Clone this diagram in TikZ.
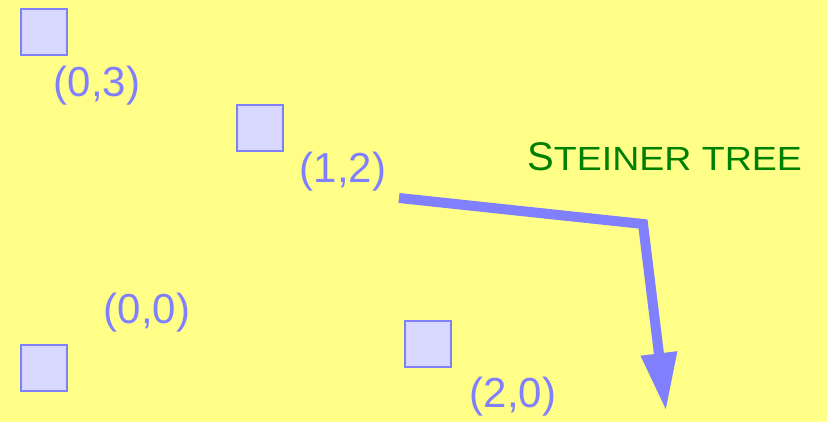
\documentclass[tikz,border=0pt]{standalone}
\usepackage{fontspec}
\setmainfont{Liberation Sans}
\usetikzlibrary{arrows.meta}
\definecolor{bgyellow}{RGB}{255,255,136}
\definecolor{lblue}{RGB}{128,128,255}
\definecolor{sqfill}{RGB}{216,216,255}
\definecolor{dgreen}{RGB}{0,128,0}
\tikzset{
  pt/.style={draw=lblue, fill=sqfill, line width=2pt, minimum size=46pt, inner sep=0pt, outer sep=0pt},
  lbl/.style={text=lblue, font=\fontsize{42}{46}\selectfont, inner sep=0pt},
}
\begin{document}
\begin{tikzpicture}[x=1pt,y=-1pt]
\fill[bgyellow] (0,0) rectangle (827,422);
\useasboundingbox (0,0) rectangle (827,422);
\node[pt] (s03) at (44,32) {};
\node[pt] (s12) at (260,128) {};
\node[pt] (s00) at (44,368) {};
\node[pt] (s20) at (428,344) {};
\node[lbl] (l03) at (97,86) {(0,3)};
\node[lbl] (l12) at (343,172) {(1,2)};
\node[lbl] (l00) at (147,313) {(0,0)};
\node[lbl] (l20) at (513,397) {(2,0)};
\node[text=dgreen, anchor=base west, inner sep=0pt] (st) at (527,171)
  {\fontsize{40}{44}\selectfont S\scalebox{1.12}[1]{\fontsize{33.5}{36}\selectfont TEINER TREE}};
\coordinate (a0) at (399,198);
\coordinate (a1) at (643,224);
\coordinate (a2) at (666,411);
\draw[lblue, line width=10pt, line join=miter, -{Triangle[length=58pt,width=34pt]}] (a0) -- (a1) -- (a2);
\end{tikzpicture}
\end{document}
